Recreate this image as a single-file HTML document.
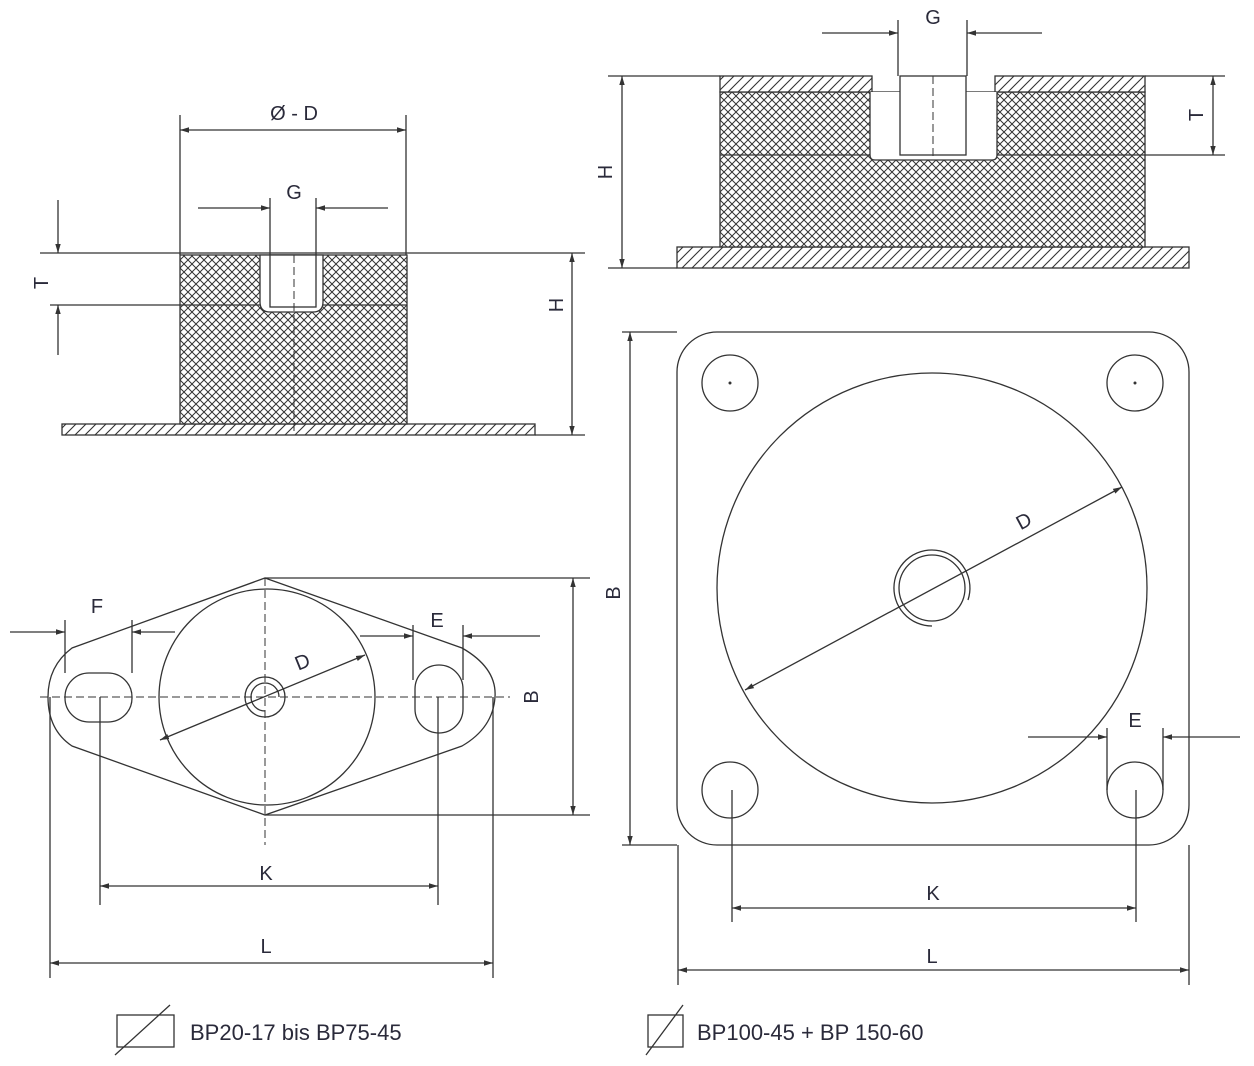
<!DOCTYPE html>
<html><head><meta charset="utf-8"><style>
html,body{margin:0;padding:0;background:#fff;}
svg{display:block;}
text{font-family:"Liberation Sans",sans-serif;fill:#2a2a3a;}
</style></head><body>
<svg width="1254" height="1066" viewBox="0 0 1254 1066" xmlns="http://www.w3.org/2000/svg">
<defs>
<pattern id="xh" width="8" height="8" patternUnits="userSpaceOnUse">
<rect width="8" height="8" fill="#fff"/>
<path d="M0,8 L8,0 M-2,2 L2,-2 M6,10 L10,6 M0,0 L8,8 M-2,6 L2,10 M6,-2 L10,2" stroke="#333" stroke-width="1"/>
</pattern>
<pattern id="sh" width="10" height="10" patternUnits="userSpaceOnUse">
<rect width="10" height="10" fill="#fff"/>
<path d="M0,10 L10,0 M-2,2 L2,-2 M8,12 L12,8" stroke="#333" stroke-width="1.1"/>
</pattern>
<marker id="a" viewBox="0 0 10 10" refX="10" refY="5" markerWidth="9" markerHeight="9" orient="auto-start-reverse" markerUnits="userSpaceOnUse"><path d="M0,2 L10,5 L0,8 z" fill="#333"/></marker>
</defs>
<g stroke="#333" stroke-width="1.3" fill="none">
<rect x="62" y="424" width="473" height="11" fill="url(#sh)"/>
<rect x="180" y="255" width="227" height="169" fill="url(#xh)"/>
<line x1="180" y1="305" x2="407" y2="305"/>
<path d="M260,255 V302 Q260,312 270,312 H313 Q323,312 323,302 V255 Z" fill="#fff"/>
<rect x="270" y="255" width="46" height="52" fill="#fff"/>
<line x1="294" y1="255" x2="294" y2="435" stroke-dasharray="8,4" stroke-width="1"/>
<line x1="180" y1="115" x2="180" y2="255"/><line x1="406" y1="115" x2="406" y2="255"/>
<line x1="180" y1="130" x2="406" y2="130" marker-start="url(#a)" marker-end="url(#a)"/>
<line x1="270" y1="198" x2="270" y2="255"/><line x1="316" y1="198" x2="316" y2="255"/>
<line x1="198" y1="208" x2="270" y2="208" marker-end="url(#a)"/><line x1="388" y1="208" x2="316" y2="208" marker-end="url(#a)"/>
<line x1="40" y1="253" x2="585" y2="253"/><line x1="50" y1="305" x2="180" y2="305"/>
<line x1="58" y1="200" x2="58" y2="253" marker-end="url(#a)"/><line x1="58" y1="355" x2="58" y2="305" marker-end="url(#a)"/>
<line x1="535" y1="435" x2="585" y2="435"/>
<line x1="572" y1="253" x2="572" y2="435" marker-start="url(#a)" marker-end="url(#a)"/>

<rect x="677" y="247" width="512" height="21" fill="url(#sh)"/>
<rect x="720" y="92" width="425" height="155" fill="url(#xh)"/>
<line x1="720" y1="155" x2="1145" y2="155"/>
<rect x="720" y="76" width="152" height="16" fill="url(#sh)"/>
<rect x="995" y="76" width="150" height="16" fill="url(#sh)"/>
<path d="M870,92 V155 Q870,160 875,160 H992 Q997,160 997,155 V92" fill="#fff"/>
<rect x="900" y="76" width="66" height="79" fill="#fff"/>
<line x1="933" y1="76" x2="933" y2="160" stroke-dasharray="8,4" stroke-width="1"/>
<line x1="898" y1="20" x2="898" y2="76"/><line x1="967" y1="20" x2="967" y2="76"/>
<line x1="822" y1="33" x2="898" y2="33" marker-end="url(#a)"/><line x1="1042" y1="33" x2="967" y2="33" marker-end="url(#a)"/>
<line x1="608" y1="76" x2="720" y2="76"/><line x1="608" y1="268" x2="677" y2="268"/>
<line x1="622" y1="76" x2="622" y2="268" marker-start="url(#a)" marker-end="url(#a)"/>
<line x1="1145" y1="76" x2="1225" y2="76"/><line x1="1145" y1="155" x2="1225" y2="155"/>
<line x1="1213" y1="76" x2="1213" y2="155" marker-start="url(#a)" marker-end="url(#a)"/>

<path d="M265,578 L462,648 Q497,668 495,697 Q493,728 462,746 L265,815 L72,746 Q48,730 48,697 Q48,666 72,648 Z"/>
<circle cx="267" cy="697" r="108"/>
<circle cx="265" cy="697" r="20"/><path d="M265,711 A14,14 0 1,1 279,697"/>
<rect x="65" y="673" width="67" height="49" rx="24"/>
<rect x="415" y="665" width="48" height="68" rx="24"/>
<g stroke-dasharray="8,4" stroke-width="1"><line x1="40" y1="697" x2="510" y2="697"/><line x1="265" y1="578" x2="265" y2="845"/></g>
<line x1="160" y1="740" x2="365" y2="655" marker-start="url(#a)" marker-end="url(#a)"/>
<line x1="65" y1="620" x2="65" y2="673"/><line x1="132" y1="620" x2="132" y2="673"/>
<line x1="10" y1="632" x2="65" y2="632" marker-end="url(#a)"/><line x1="175" y1="632" x2="132" y2="632" marker-end="url(#a)"/>
<line x1="413" y1="625" x2="413" y2="680"/><line x1="463" y1="625" x2="463" y2="680"/>
<line x1="360" y1="636" x2="413" y2="636" marker-end="url(#a)"/><line x1="540" y1="636" x2="463" y2="636" marker-end="url(#a)"/>
<line x1="265" y1="578" x2="590" y2="578"/><line x1="265" y1="815" x2="590" y2="815"/>
<line x1="573" y1="578" x2="573" y2="815" marker-start="url(#a)" marker-end="url(#a)"/>
<line x1="100" y1="697" x2="100" y2="905"/><line x1="438" y1="697" x2="438" y2="905"/>
<line x1="100" y1="886" x2="438" y2="886" marker-start="url(#a)" marker-end="url(#a)"/>
<line x1="50" y1="697" x2="50" y2="978"/><line x1="493" y1="697" x2="493" y2="978"/>
<line x1="50" y1="963" x2="493" y2="963" marker-start="url(#a)" marker-end="url(#a)"/>

<rect x="677" y="332" width="512" height="513" rx="40"/>
<circle cx="730" cy="383" r="28"/><circle cx="1135" cy="383" r="28"/>
<circle cx="730" cy="790" r="28"/><circle cx="1135" cy="790" r="28"/>
<circle cx="932" cy="588" r="215"/>
<circle cx="932" cy="588" r="33"/>
<path d="M932,626 A38,38 0 1,1 968,600"/>
<line x1="745" y1="690" x2="1122" y2="487" marker-start="url(#a)" marker-end="url(#a)"/>
<line x1="622" y1="332" x2="677" y2="332"/><line x1="622" y1="845" x2="677" y2="845"/>
<line x1="630" y1="332" x2="630" y2="845" marker-start="url(#a)" marker-end="url(#a)"/>
<line x1="1107" y1="728" x2="1107" y2="790"/><line x1="1163" y1="728" x2="1163" y2="790"/>
<line x1="1028" y1="737" x2="1107" y2="737" marker-end="url(#a)"/><line x1="1240" y1="737" x2="1163" y2="737" marker-end="url(#a)"/>
<line x1="732" y1="790" x2="732" y2="922"/><line x1="1136" y1="790" x2="1136" y2="922"/>
<line x1="732" y1="908" x2="1136" y2="908" marker-start="url(#a)" marker-end="url(#a)"/>
<line x1="678" y1="845" x2="678" y2="985"/><line x1="1189" y1="845" x2="1189" y2="985"/>
<line x1="678" y1="970" x2="1189" y2="970" marker-start="url(#a)" marker-end="url(#a)"/>

<rect x="117" y="1015" width="57" height="32"/><line x1="115" y1="1055" x2="170" y2="1005"/>
<rect x="648" y="1015" width="35" height="32"/><line x1="646" y1="1055" x2="683" y2="1005"/>
</g>
<g fill="#333"><circle cx="730" cy="383" r="1.5"/><circle cx="1135" cy="383" r="1.5"/></g>
<g font-size="20">
<text x="294" y="120" text-anchor="middle">Ø - D</text>
<text x="294" y="199" text-anchor="middle">G</text>
<text x="48" y="283" text-anchor="middle" transform="rotate(-90 48 283)">T</text>
<text x="563" y="305" text-anchor="middle" transform="rotate(-90 563 305)">H</text>
<text x="933" y="24" text-anchor="middle">G</text>
<text x="612" y="172" text-anchor="middle" transform="rotate(-90 612 172)">H</text>
<text x="1203" y="115" text-anchor="middle" transform="rotate(-90 1203 115)">T</text>
<text x="97" y="613" text-anchor="middle">F</text>
<text x="437" y="627" text-anchor="middle">E</text>
<text x="305" y="668" text-anchor="middle" transform="rotate(-22 305 668)">D</text>
<text x="538" y="697" text-anchor="middle" transform="rotate(-90 538 697)">B</text>
<text x="266" y="880" text-anchor="middle">K</text>
<text x="266" y="953" text-anchor="middle">L</text>
<text x="1027" y="527" text-anchor="middle" transform="rotate(-28 1027 527)">D</text>
<text x="620" y="593" text-anchor="middle" transform="rotate(-90 620 593)">B</text>
<text x="1135" y="727" text-anchor="middle">E</text>
<text x="933" y="900" text-anchor="middle">K</text>
<text x="932" y="963" text-anchor="middle">L</text>
<text x="190" y="1040" font-size="22">BP20-17 bis BP75-45</text>
<text x="697" y="1040" font-size="22">BP100-45 + BP 150-60</text>
</g>
</svg>
</body></html>
